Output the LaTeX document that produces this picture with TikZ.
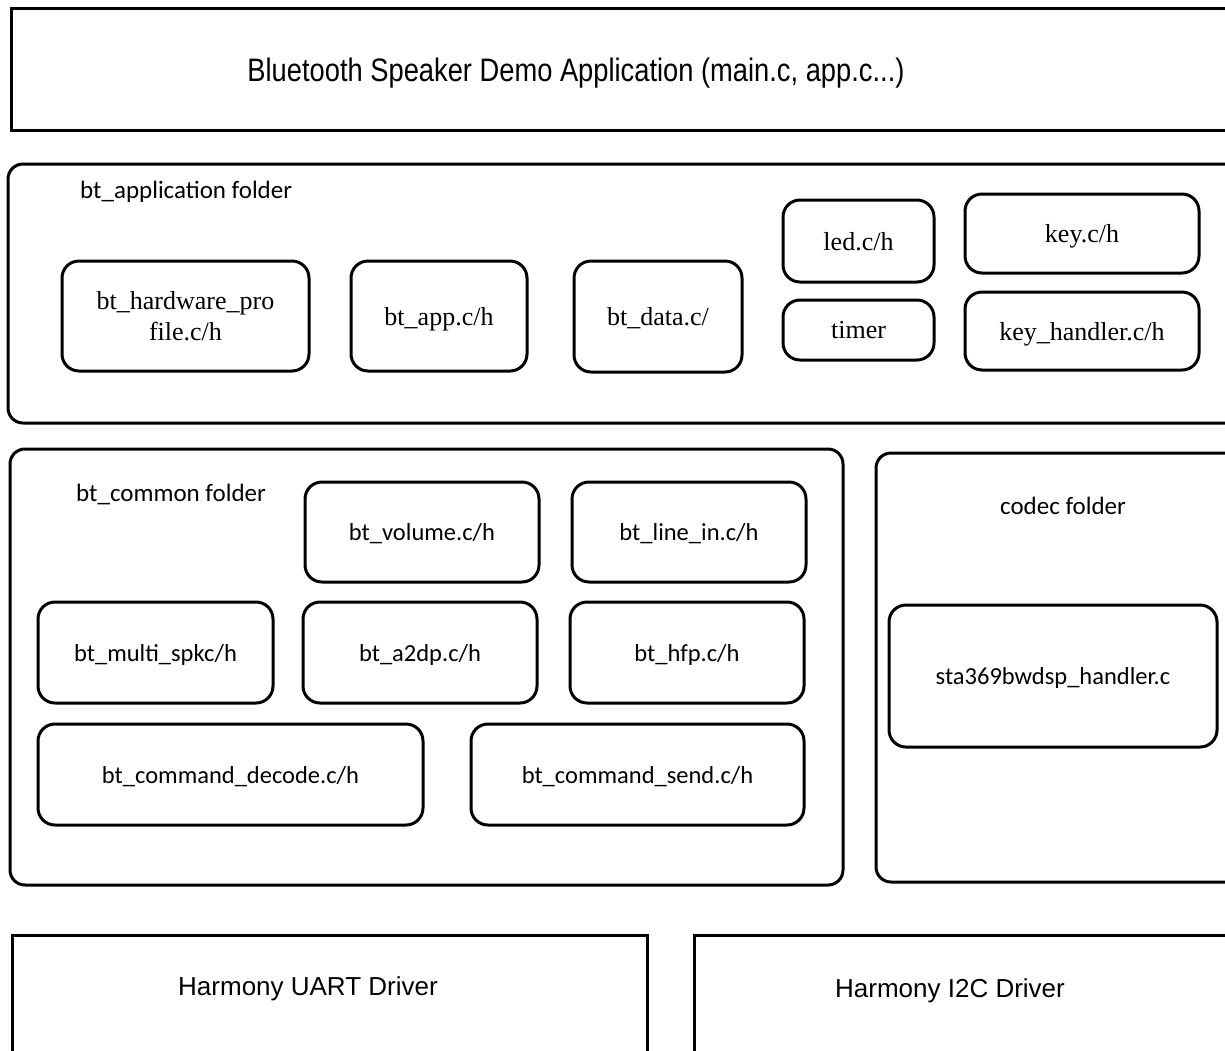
\documentclass[tikz,border=0pt]{standalone}
\usepackage{fontspec}
\setmainfont{Liberation Sans}
\newfontfamily\calfont{Carlito}
\newfontfamily\camfont{Liberation Serif}
\usetikzlibrary{positioning}

\tikzset{
  layer/.style={draw, line width=3pt, inner sep=0pt},
  folder/.style={draw, line width=3pt, rounded corners=15pt, inner sep=0pt},
  srcfile/.style={draw, line width=3pt, rounded corners=17pt, inner sep=0pt, align=center,
    text depth=0pt, font=\calfont\fontsize{24.5}{29}\selectfont},
  appfile/.style={srcfile, font=\camfont\fontsize{26}{31}\selectfont},
  foldername/.style={inner sep=0pt, font=\calfont\fontsize{25}{30}\selectfont},
  layername/.style={inner sep=0pt}
}

\begin{document}
\begin{tikzpicture}[x=1pt, y=-1pt]
\useasboundingbox (0,0) rectangle (1225,1050);
\clip (0,0) rectangle (1225,1050);

% demo application on top
\node[layer, minimum width=1229pt, minimum height=122pt] (demo) at (625.5,69) {};
\node[layername, font=\fontsize{32.5}{38}\selectfont] (demoname) at (576,73)
  {\scalebox{0.84}[1]{Bluetooth Speaker Demo Application (main.c, app.c...)}};

% bt_application folder
\node[folder, minimum width=1232pt, minimum height=259pt] (appdir) at (624,293.5) {};
\node[foldername, anchor=west] (appdirname) at (80,192) {bt\_application folder};
\node[appfile, minimum width=247pt, minimum height=110pt] (hwprof) at (185.5,316) {bt\_hardware\_pro\\file.c/h};
\node[appfile, minimum width=176pt, minimum height=110pt] (btapp) at (439,316) {bt\_app.c/h};
\node[appfile, minimum width=168pt, minimum height=111pt] (btdata) at (658,316.5) {bt\_data.c/};
\node[appfile, minimum width=151pt, minimum height=82pt] (led) at (858.5,241) {led.c/h};
\node[appfile, minimum width=151pt, minimum height=60pt] (timer) at (858.5,330) {timer};
\node[appfile, minimum width=234pt, minimum height=79pt] (key) at (1082,233.5) {key.c/h};
\node[appfile, minimum width=234pt, minimum height=78pt] (keyhdl) at (1082,331) {key\_handler.c/h};

% bt_common folder
\node[folder, minimum width=833pt, minimum height=436pt] (commondir) at (426.5,667) {};
\node[foldername, anchor=west] (commondirname) at (76,494) {bt\_common folder};
\node[srcfile, minimum width=234pt, minimum height=100pt] (volume) at (422,532) {bt\_volume.c/h};
\node[srcfile, minimum width=234pt, minimum height=100pt] (linein) at (689,532) {bt\_line\_in.c/h};
\node[srcfile, minimum width=235pt, minimum height=101pt] (multispk) at (155.5,652.5) {bt\_multi\_spkc/h};
\node[srcfile, minimum width=234pt, minimum height=101pt] (atwodp) at (420,652.5) {bt\_a2dp.c/h};
\node[srcfile, minimum width=234pt, minimum height=101pt] (hfp) at (687,652.5) {bt\_hfp.c/h};
\node[srcfile, minimum width=385pt, minimum height=101pt] (cmddec) at (230.5,774.5) {bt\_command\_decode.c/h};
\node[srcfile, minimum width=333pt, minimum height=101pt] (cmdsend) at (637.5,774.5) {bt\_command\_send.c/h};

% codec folder
\node[folder, minimum width=364pt, minimum height=429pt] (codecdir) at (1058,667.5) {};
\node[foldername] (codecdirname) at (1063,506) {codec folder};
\node[srcfile, minimum width=328pt, minimum height=142pt] (dsp) at (1053,676) {sta369bwdsp\_handler.c};

% harmony drivers
\node[layer, minimum width=635pt, minimum height=135pt] (uart) at (329.5,1002.5) {};
\node[layername, font=\fontsize{26}{31}\selectfont] (uartname) at (308,989) {Harmony UART Driver};
\node[layer, minimum width=546pt, minimum height=135pt] (itwoc) at (967,1002.5) {};
\node[layername, font=\fontsize{26}{31}\selectfont] (itwocname) at (950,991) {Harmony I2C Driver};

\end{tikzpicture}
\end{document}
